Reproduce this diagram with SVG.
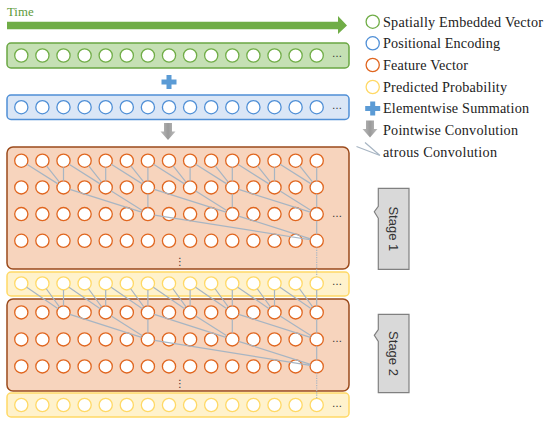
<svg xmlns="http://www.w3.org/2000/svg" width="550" height="424" viewBox="0 0 550 424">
<style>
.lbl{font-family:"Liberation Serif","Times New Roman",serif;font-size:14.2px;fill:#222}
.dots{font-family:"DejaVu Sans",sans-serif;font-size:10px;fill:#333;text-anchor:middle}
.vdots{font-family:"DejaVu Sans",sans-serif;font-size:10px;fill:#333;text-anchor:middle}
.cg{fill:#fff;stroke:#70ad47;stroke-width:1.3}
.cb{fill:#fff;stroke:#4f8fd6;stroke-width:1.3}
.co{fill:#fff;stroke:#e0661f;stroke-width:1.3}
.cy{fill:#fff;stroke:#ffd966;stroke-width:1.3}
.conn{fill:none;stroke:#a7b5c3;stroke-width:1.2}
.dotted{fill:none;stroke:#a7b5c3;stroke-width:1.2;stroke-dasharray:1.2 1.2}
.stage{fill:#d9d9d9;stroke:#808080;stroke-width:1.2}
.stxt{font-family:"Liberation Sans",Arial,sans-serif;font-size:13px;fill:#333;text-anchor:middle}
</style>
<defs>
<linearGradient id="gArrow" x1="0" y1="0" x2="1" y2="0">
<stop offset="0" stop-color="#bdbdbd"/><stop offset="0.5" stop-color="#9a9a9a"/><stop offset="1" stop-color="#bdbdbd"/>
</linearGradient>
<g id="rowG"><circle cx="21.3" r="6.6"/><circle cx="42.4" r="6.6"/><circle cx="63.5" r="6.6"/><circle cx="84.6" r="6.6"/><circle cx="105.7" r="6.6"/><circle cx="126.8" r="6.6"/><circle cx="147.9" r="6.6"/><circle cx="169" r="6.6"/><circle cx="190.1" r="6.6"/><circle cx="211.2" r="6.6"/><circle cx="232.3" r="6.6"/><circle cx="253.4" r="6.6"/><circle cx="274.5" r="6.6"/><circle cx="295.6" r="6.6"/><circle cx="316.7" r="6.6"/></g>
<path id="plus" d="M-2.5,-7 h5 v4.5 h5 v5 h-5 v4.5 h-5 v-4.5 h-5 v-5 h5 z"/>
<path id="down" d="M-4,-9 h8 v8.5 h3.5 l-7.5,8.5 l-7.5,-8.5 h3.5 z"/>
</defs>

<!-- time arrow -->
<g id="time-axis">
<text x="7" y="15.5" font-family="Liberation Serif, serif" font-size="12.8" fill="#5e9a3a">Time</text>
<path d="M7,21.8 H338 V16 L347,25.5 L338,34 V29.2 H7 Z" fill="#70ad47"/>
</g>

<!-- panels -->
<g id="panels">
<rect id="panel-embedded" x="7" y="43" width="342" height="25" rx="4" fill="#c5e0b4" stroke="#6aa743" stroke-width="1.5"/>
<rect id="panel-positional" x="7" y="95" width="342" height="24.5" rx="4" fill="#dae6f6" stroke="#4f8fd6" stroke-width="1.5"/>
<rect id="panel-stage1" x="7" y="147" width="342" height="122" rx="6" fill="#f7d4bd" stroke="#9b4a1b" stroke-width="1.5"/>
<rect id="panel-prob1" x="7" y="272" width="342" height="24" rx="4" fill="#fff2cc" stroke="#ffd966" stroke-width="1.5"/>
<rect id="panel-stage2" x="7" y="299" width="342" height="92" rx="6" fill="#f7d4bd" stroke="#9b4a1b" stroke-width="1.5"/>
<rect id="panel-prob2" x="7" y="393" width="342" height="24" rx="4" fill="#fff2cc" stroke="#ffd966" stroke-width="1.5"/>
</g>

<!-- nodes -->
<g id="embedded-vector"><use href="#rowG" y="55.5" class="cg"/><text class="dots" x="337" y="57">…</text></g>
<g id="sum-op"><use href="#plus" x="169" y="82" fill="#5b9bd5"/></g>
<g id="positional-encoding"><use href="#rowG" y="107.2" class="cb"/><text class="dots" x="337" y="108.7">…</text></g>
<g id="pointwise-op"><use href="#down" x="168" y="132" fill="url(#gArrow)"/></g>
<g id="stage1-layer1"><use href="#rowG" y="160.7" class="co"/></g>
<g id="stage1-layer2"><use href="#rowG" y="187.4" class="co"/></g>
<g id="stage1-layer3"><use href="#rowG" y="214.1" class="co"/><text class="dots" x="337" y="216.5">…</text></g>
<g id="stage1-layer4"><use href="#rowG" y="240.8" class="co"/><text class="vdots" x="180" y="264.5">⋮</text></g>
<g id="prob1"><use href="#rowG" y="283.4" class="cy"/><text class="dots" x="337" y="285">…</text></g>
<g id="stage2-layer1"><use href="#rowG" y="312.4" class="co"/></g>
<g id="stage2-layer2"><use href="#rowG" y="339.4" class="co"/><text class="dots" x="337" y="341.5">…</text></g>
<g id="stage2-layer3"><use href="#rowG" y="366.4" class="co"/><text class="vdots" x="180" y="386.5">⋮</text></g>
<g id="prob2"><use href="#rowG" y="405" class="cy"/><text class="dots" x="337" y="406.5">…</text></g>

<!-- connectors -->
<g id="connectors">
<path class="conn" d="M26.88,164.23L57.92,183.87M46.49,165.88L59.41,182.22M63.5,167.3V180.8
M69.08,164.23L100.12,183.87M88.69,165.88L101.61,182.22M105.7,167.3V180.8
M111.28,164.23L142.32,183.87M130.89,165.88L143.81,182.22M147.9,167.3V180.8
M153.48,164.23L184.52,183.87M173.09,165.88L186.01,182.22M190.1,167.3V180.8
M195.68,164.23L226.72,183.87M215.29,165.88L228.21,182.22M232.3,167.3V180.8
M237.88,164.23L268.92,183.87M257.49,165.88L270.41,182.22M274.5,167.3V180.8
M280.08,164.23L311.12,183.87M299.69,165.88L312.61,182.22M316.7,167.3V180.8"/>
<path class="conn" d="M69.79,189.39L141.61,212.11M111.28,190.93L142.32,210.57M147.9,194V207.5
M154.19,189.39L226.01,212.11M195.68,190.93L226.72,210.57M232.3,194V207.5
M238.59,189.39L310.41,212.11M280.08,190.93L311.12,210.57M316.7,194V207.5"/>
<path class="conn" d="M154.42,215.13L310.18,239.77M238.59,216.09L310.41,238.81M316.7,220.7V234.2"/>
<path class="dotted" d="M316.7,247.4V276.8"/>
<path class="conn" d="M26.74,287.14L58.06,308.66M46.28,288.74L59.62,307.06M63.5,290V305.8
M68.94,287.14L100.26,308.66M88.48,288.74L101.82,307.06M105.7,290V305.8
M111.14,287.14L142.46,308.66M130.68,288.74L144.02,307.06M147.9,290V305.8
M153.34,287.14L184.66,308.66M172.88,288.74L186.22,307.06M190.1,290V305.8
M195.54,287.14L226.86,308.66M215.08,288.74L228.42,307.06M232.3,290V305.8
M237.74,287.14L269.06,308.66M257.28,288.74L270.62,307.06M274.5,290V305.8
M279.94,287.14L311.26,308.66M299.48,288.74L312.82,307.06M316.7,290V305.8"/>
<path class="conn" d="M69.79,314.41L141.61,337.39M111.26,315.96L142.34,335.84M147.9,319V332.8
M154.19,314.41L226.01,337.39M195.66,315.96L226.74,335.84M232.3,319V332.8
M238.59,314.41L310.41,337.39M280.06,315.96L311.14,335.84M316.7,319V332.8"/>
<path class="conn" d="M154.42,340.44L310.18,365.36M238.59,341.41L310.41,364.39M316.7,346V359.8"/>
<path class="dotted" d="M316.7,373V398.4"/>
</g>

<!-- stage labels -->
<g id="stage1-label">
<path class="stage" d="M378.3,188.3H409V269.3H378.3V218.3L374.3,211.7L378.3,206.3Z"/>
<text class="stxt" transform="translate(393.6,228.8) rotate(90)" dy="4.6">Stage 1</text>
</g>
<g id="stage2-label">
<path class="stage" d="M378.3,314.3H409V392.7H378.3V341.5L374.3,335.3L378.3,329.5Z"/>
<text class="stxt" transform="translate(393.6,353.5) rotate(90)" dy="4.6">Stage 2</text>
</g>

<!-- legend -->
<g id="legend">
<circle cx="372.7" cy="21.7" r="6.6" class="cg"/>
<text class="lbl" x="383" y="26.6" textLength="160">Spatially Embedded Vector</text>
<circle cx="372.7" cy="43.3" r="6.6" class="cb"/>
<text class="lbl" x="383" y="48.2" textLength="117">Positional Encoding</text>
<circle cx="372.7" cy="65" r="6.6" class="co"/>
<text class="lbl" x="383" y="69.9" textLength="85">Feature Vector</text>
<circle cx="372.7" cy="87" r="6.6" class="cy"/>
<text class="lbl" x="383" y="91.9" textLength="124">Predicted Probability</text>
<use href="#plus" x="372.7" y="108.5" fill="#5b9bd5"/>
<text class="lbl" x="383" y="113.4" textLength="146">Elementwise Summation</text>
<use href="#down" x="370" y="129.5" fill="url(#gArrow)"/>
<text class="lbl" x="383" y="135.2" textLength="135">Pointwise Convolution</text>
<path class="conn" d="M356.5,146.5L380,155.5M365,142.5L380,155.5"/>
<text class="lbl" x="383" y="156.9" textLength="114">atrous Convolution</text>
</g>
</svg>
